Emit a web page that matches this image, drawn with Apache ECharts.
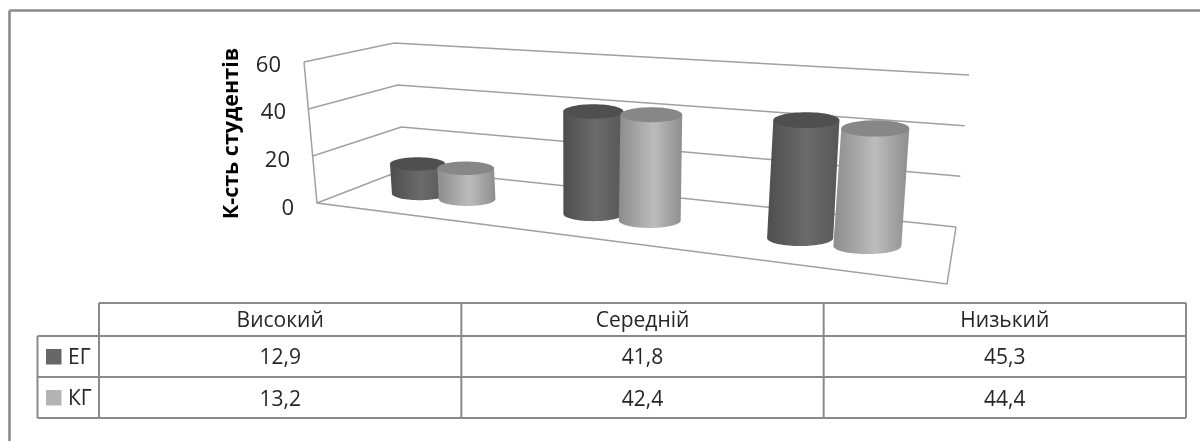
<!DOCTYPE html>
<html><head><meta charset="utf-8">
<style>html,body{margin:0;padding:0;background:#fff}#c{width:1200px;height:441px}</style>
<script src="https://cdn.jsdelivr.net/npm/echarts@6/dist/echarts.min.js"></script>
</head><body><div id="c"></div>
<script>
const categories = ['Високий', 'Середній', 'Низький'];
const seriesNames = ['ЕГ', 'КГ'];
const egValues = [12.9, 41.8, 45.3];
const kgValues = [13.2, 42.4, 44.4];
const yTicks = [0, 20, 40, 60];
const axisTitle = 'К-сть студентів';

const FONT = '"Open Sans", Lato, sans-serif';
const GRID = {left: 300, top: 62, width: 650, height: 143};
const FL = [317, 203], FR = [947, 284], BR = [956, 227], BL = [405, 169];
const UP = {FL: [-13, -141], BL: [-11, -126], BR: [13, -152], FR: [14, -170]};
const DEPTH = 0.45, CLUSTER = 0.145, SHIFT = 0.0105, LENS = 0.006;
const STYLES = [
  {stops: ['#4e4e4e', '#6b6b6b', '#575757'], top: '#4f4f4f', swatch: '#666666'},
  {stops: ['#8c8c8c', '#bcbcbc', '#8e8e8e'], top: '#878787', swatch: '#b3b3b3'}
];

// perspective of the floor: unit square to quad
const sx = FL[0]-FR[0]+BR[0]-BL[0], sy = FL[1]-FR[1]+BR[1]-BL[1];
const d1x = FR[0]-BR[0], d2x = BL[0]-BR[0], d1y = FR[1]-BR[1], d2y = BL[1]-BR[1];
const det = d1x*d2y - d2x*d1y;
const g = (sx*d2y - d2x*sy)/det, h = (d1x*sy - sx*d1y)/det;
function wOf(u, d) { return 1 + g*u + h*d; }
function floorPt(u, d) {
  const a = [FR[0]-FL[0]+g*FR[0], FR[1]-FL[1]+g*FR[1]];
  const b = [BL[0]-FL[0]+h*BL[0], BL[1]-FL[1]+h*BL[1]];
  const w = wOf(u, d);
  return [(a[0]*u + b[0]*d + FL[0])/w, (a[1]*u + b[1]*d + FL[1])/w];
}
function upVec(u, d) {
  const f = i => (UP.FL[i]*(1-u)+UP.FR[i]*u)*(1-d) + (UP.BL[i]*(1-u)+UP.BR[i]*u)*d;
  return [f(0), f(1)];
}
function warp(u, d, v) {
  const p = floorPt(u, d), up = upVec(u, d);
  return [p[0]+up[0]*v, p[1]+up[1]*v];
}
const uOf = px => (px - GRID.left)/GRID.width;
const vOf = py => (GRID.top + GRID.height - py)/GRID.height;

function wallItem(params, api) {
  const v = vOf(api.coord([0, api.value(0)])[1]);
  const pts = [warp(0, 0, v), warp(0, 1, v), warp(1, 1, v)];
  return {type: 'polyline', shape: {points: pts}, silent: true,
    style: {stroke: '#a0a0a0', lineWidth: 1.5, fill: null}};
}
function frameItem() {
  return {type: 'group', silent: true, children: [
    {type: 'polyline', shape: {points: [warp(0,0,1), warp(0,0,0), warp(1,0,0), warp(1,1,0)]},
     style: {stroke: '#a0a0a0', lineWidth: 1.5, fill: null}}
  ]};
}
function cylinderItem(sIdx) {
  return function (params, api) {
    const base = api.coord([api.value(0), 0]);
    const head = api.coord([api.value(0), api.value(1)]);
    const u0 = uOf(base[0]) + SHIFT + (sIdx === 0 ? -CLUSTER : CLUSTER)*api.size([1, 0])[0]/GRID.width;
    const u = u0 - LENS*u0*u0*u0;
    const v = vOf(head[1]);
    const b = floorPt(u, DEPTH), t = warp(u, DEPTH, v);
    const w = wOf(u, DEPTH), rx = 28.6/w, ry = rx*0.24;
    const side = [];
    for (let i = 0; i <= 36; i++) {
      const a = Math.PI*i/36;
      side.push([b[0]+rx*Math.cos(a), b[1]+ry*Math.sin(a)]);
    }
    side.push([t[0]-rx, t[1]], [t[0]+rx, t[1]]);
    const s = STYLES[sIdx];
    return {type: 'group', silent: true, children: [
      {type: 'polygon', shape: {points: side}, style: {fill: new echarts.graphic.LinearGradient(0,0,1,0,[
        {offset: 0, color: s.stops[0]}, {offset: 0.55, color: s.stops[1]}, {offset: 1, color: s.stops[2]}])}},
      {type: 'ellipse', shape: {cx: t[0], cy: t[1], rx: rx, ry: ry}, style: {fill: s.top}}
    ]};
  };
}

// table
const T = {x0: 37.5, x1: 99, x2: 1186, y0: 303, y1: 336, y2: 377, y3: 418, stroke: '#8a8a8a'};
const colW = (T.x2 - T.x1)/categories.length;
const fmt = n => String(n).replace('.', ',');
const gfx = [];
function ln(x1, y1, x2, y2, lw) {
  gfx.push({type: 'line', silent: true, shape: {x1, y1, x2, y2}, style: {stroke: T.stroke, lineWidth: lw || 2}});
}
function tx(text, x, y, align) {
  gfx.push({type: 'text', silent: true, x, y, style: {text, x: 0, y: 0, fill: '#262626',
    font: '21px ' + FONT, textAlign: align || 'center', textVerticalAlign: 'middle'}});
}
ln(9.5, 10.5, 1200, 10.5, 2.6);
ln(9.5, 10.5, 9.5, 441, 2.6);
ln(T.x1, T.y0, T.x2, T.y0);
ln(T.x0, T.y1, T.x2, T.y1);
ln(T.x0, T.y2, T.x2, T.y2);
ln(T.x0, T.y3, T.x2, T.y3);
ln(T.x0, T.y1, T.x0, T.y3);
ln(T.x1, T.y0, T.x1, T.y3);
categories.forEach((c, i) => {
  ln(T.x1 + colW*(i+1), T.y0, T.x1 + colW*(i+1), T.y3);
  tx(c, T.x1 + colW*(i+0.5), (T.y0+T.y1)/2 + 2);
  tx(fmt(egValues[i]), T.x1 + colW*(i+0.5), (T.y1+T.y2)/2 + 1.5);
  tx(fmt(kgValues[i]), T.x1 + colW*(i+0.5), (T.y2+T.y3)/2 + 2.5);
});
seriesNames.forEach((n, i) => {
  const cy = i === 0 ? (T.y1+T.y2)/2 : (T.y2+T.y3)/2;
  gfx.push({type: 'rect', silent: true, shape: {x: 46, y: cy-7.5, width: 15.5, height: 15.5}, style: {fill: STYLES[i].swatch}});
  tx(n, 68, cy + 1.5, 'left');
});

const chart = echarts.init(document.getElementById('c'), null, {renderer: 'canvas'});
const pad = {0: 0, 20: 4, 40: 8, 60: 13};
const rich = {};
yTicks.forEach(t => { rich['t'+t] = {fontFamily: FONT, fontSize: 22, color: '#262626', padding: [7, pad[t], 0, 0]}; });
chart.setOption({
  animation: false,
  backgroundColor: '#ffffff',
  grid: Object.assign({}, GRID),
  xAxis: {type: 'category', data: categories, show: false},
  yAxis: {
    type: 'value', min: 0, max: 60, interval: 20,
    name: axisTitle, nameLocation: 'middle', nameGap: 57, nameRotate: 90,
    nameTextStyle: {fontFamily: FONT, fontSize: 21.5, fontWeight: 'bold', color: '#000'},
    axisLine: {show: false}, axisTick: {show: false}, splitLine: {show: false},
    axisLabel: {margin: 6, formatter: val => `{t${val}|${val}}`, rich}
  },
  graphic: gfx,
  series: [
    {type: 'custom', name: 'walls', silent: true, clip: false, data: yTicks.map(t => [t]), encode: {y: 0}, renderItem: wallItem, z: 1},
    {type: 'custom', name: 'frame', silent: true, clip: false, data: [[0]], encode: {y: 0}, renderItem: frameItem, z: 1},
    {type: 'custom', name: seriesNames[0], silent: true, clip: false, z: 2, encode: {x: 0, y: 1},
     data: egValues.map((v, i) => [i, v]), renderItem: cylinderItem(0)},
    {type: 'custom', name: seriesNames[1], silent: true, clip: false, z: 3, encode: {x: 0, y: 1},
     data: kgValues.map((v, i) => [i, v]), renderItem: cylinderItem(1)}
  ]
});
</script></body></html>
